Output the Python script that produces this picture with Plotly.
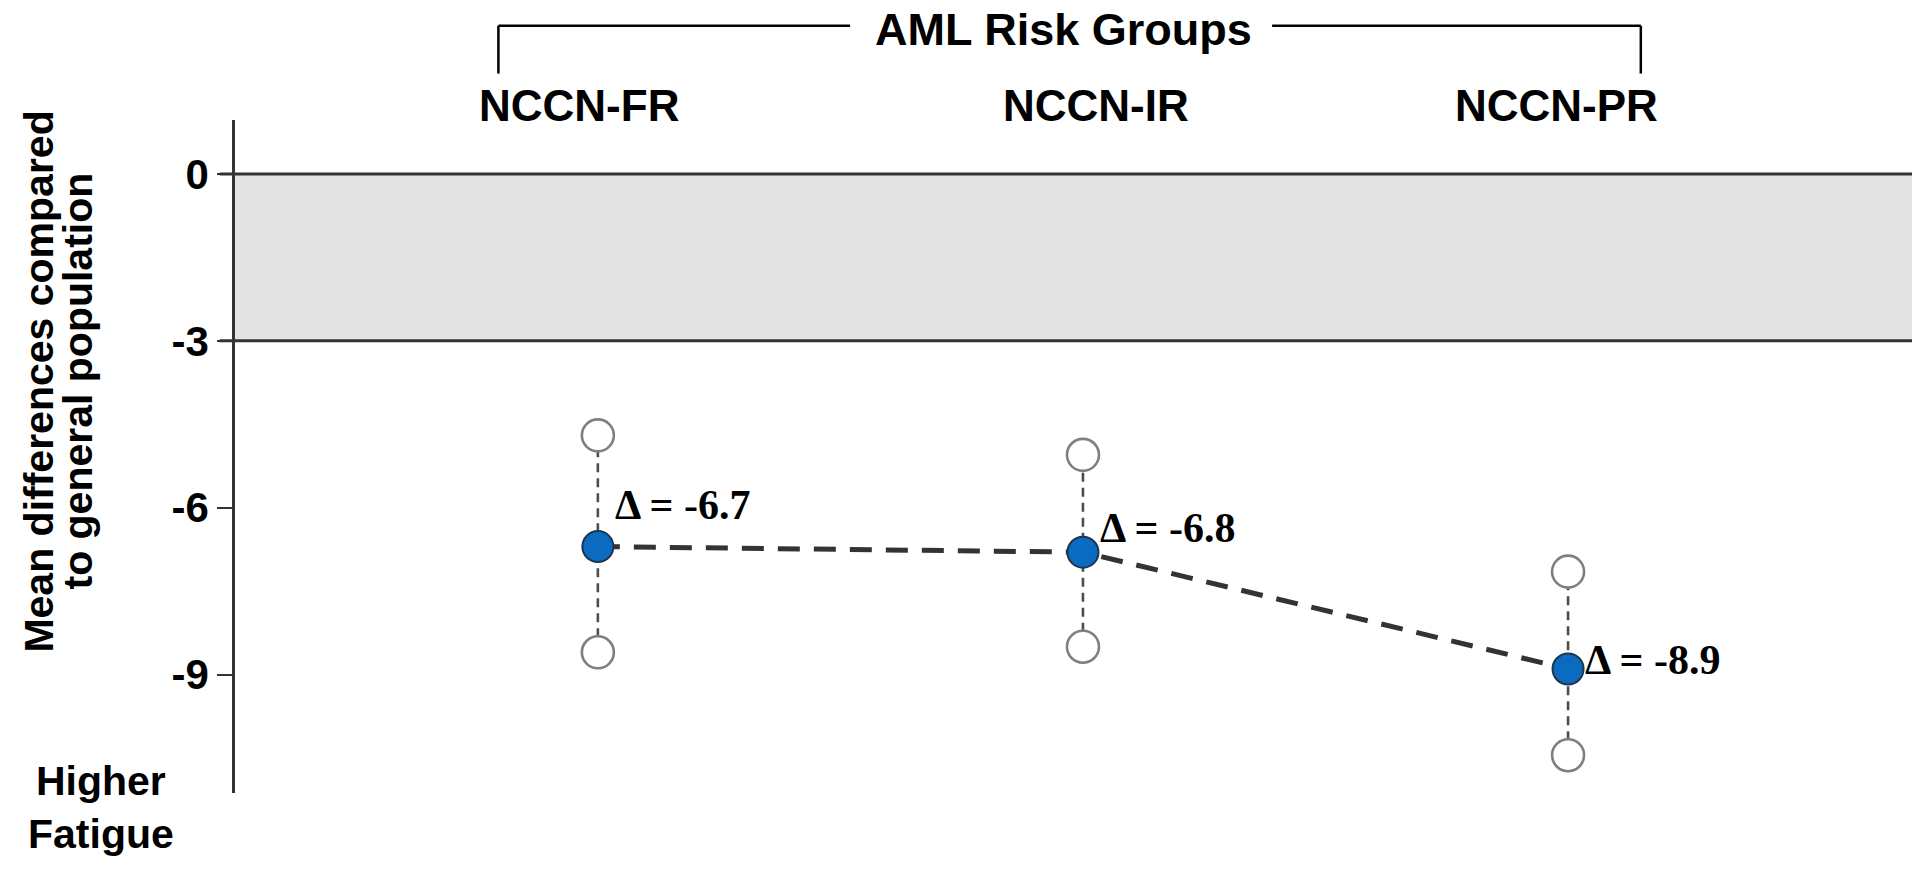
import plotly.graph_objects as go

# ---- data ----
groups = ["NCCN-FR", "NCCN-IR", "NCCN-PR"]
mean_diff = [-6.7, -6.8, -8.9]
ci_upper = [-4.7, -5.05, -7.15]
ci_lower = [-8.6, -8.5, -10.45]
delta_labels = ["Δ = -6.7", "Δ = -6.8", "Δ = -8.9"]
tick_vals = [0, -3, -6, -9]
tick_text = ["0", "-3", "-6", "-9"]
band_range = [-3, 0]
y_title_lines = ["Mean differences compared", "to general population"]

SANS = "Liberation Sans, Arial, sans-serif"
SERIF = "Liberation Serif, Times New Roman, serif"

fig = go.Figure()

# CI vertical dashed lines
for g, lo, hi in zip(groups, ci_lower, ci_upper):
    fig.add_trace(go.Scatter(
        x=[g, g], y=[lo, hi], mode="lines",
        line=dict(color="#4d4d4d", width=2.6, dash="9px,6px"),
        hoverinfo="skip", showlegend=False))

# mean connecting dashed line
fig.add_trace(go.Scatter(
    x=groups, y=mean_diff, mode="lines",
    line=dict(color="#333333", width=5, dash="22px,14px"),
    showlegend=False))

# hollow CI end markers
fig.add_trace(go.Scatter(
    x=groups + groups, y=ci_upper + ci_lower, mode="markers",
    marker=dict(size=32, color="white", line=dict(color="#7f7f7f", width=2.6)),
    showlegend=False))

# mean markers
fig.add_trace(go.Scatter(
    x=groups, y=mean_diff, mode="markers",
    marker=dict(size=31, color="#0b6bc0", line=dict(color="#1c3550", width=2)),
    showlegend=False))

# grey band and horizontal reference lines
fig.add_shape(type="rect", xref="paper", yref="y", x0=0, x1=0.998,
              y0=band_range[0], y1=band_range[1],
              fillcolor="#e4e4e4", line=dict(width=0), layer="below")
for yv in band_range:
    fig.add_shape(type="line", xref="paper", yref="y", x0=-0.009, x1=0.998,
                  y0=yv, y1=yv, line=dict(color="#333333", width=3))

# bracket above the groups
br_top = 1.140
br_bot = 1.069
fig.add_shape(type="line", xref="x", yref="paper", x0=-0.205, x1=-0.205,
              y0=br_bot, y1=br_top, line=dict(color="black", width=2.5))
fig.add_shape(type="line", xref="x", yref="paper", x0=2.15, x1=2.15,
              y0=br_bot, y1=br_top, line=dict(color="black", width=2.5))
fig.add_shape(type="line", xref="x", yref="paper", x0=-0.205, x1=0.52,
              y0=br_top, y1=br_top, line=dict(color="black", width=2.5))
fig.add_shape(type="line", xref="x", yref="paper", x0=1.39, x1=2.15,
              y0=br_top, y1=br_top, line=dict(color="black", width=2.5))
fig.add_annotation(x=0.96, y=br_top, xref="x", yref="paper",
                   text="<b>AML Risk Groups</b>", showarrow=False,
                   font=dict(family=SANS, size=45, color="black"),
                   xanchor="center", yanchor="middle", yshift=-4, borderpad=0)

# group labels on top
for g, dx in zip(groups, [-19, 13, -12]):
    fig.add_annotation(x=g, y=1.021, xref="x", yref="paper",
                       text=f"<b>{g}</b>", showarrow=False,
                       font=dict(family=SANS, size=44, color="black"),
                       xanchor="center", yanchor="middle", xshift=dx)

# delta labels
for g, m, lab, ys in zip(groups, mean_diff, delta_labels, [42, 24, 9]):
    fig.add_annotation(x=g, y=m, xref="x", yref="y", text=f"<b>{lab}</b>",
                       showarrow=False, xanchor="left", yanchor="middle",
                       xshift=15, yshift=ys,
                       font=dict(family=SERIF, size=42, color="black"))

# y-axis title (two rotated lines)
for line, px in zip(y_title_lines, [-0.1155, -0.0925]):
    fig.add_annotation(x=px, y=0.612, xref="paper", yref="paper",
                       text=f"<b>{line}</b>", textangle=-90, showarrow=False,
                       xanchor="center", yanchor="middle",
                       font=dict(family=SANS, size=41, color="black"))

# Higher Fatigue
fig.add_annotation(x=-0.079, y=-0.021, xref="paper", yref="paper",
                   text="<b>Higher<br>Fatigue</b>", showarrow=False,
                   xanchor="center", yanchor="middle",
                   font=dict(family=SANS, size=41, color="black"))

fig.update_layout(
    width=1920, height=869,
    margin=dict(l=227, r=0, t=112, b=84),
    plot_bgcolor="white", paper_bgcolor="white",
    xaxis=dict(type="category", categoryorder="array", categoryarray=groups,
               range=[-0.748, 2.742], showticklabels=False, showgrid=False,
               zeroline=False, showline=False, ticks=""),
    yaxis=dict(range=[-11.13, 0.97], tickvals=tick_vals, ticktext=tick_text,
               showgrid=False, zeroline=False, showline=True,
               linecolor="#333333", linewidth=2.5, ticks="outside",
               ticklen=15, tickwidth=2, tickcolor="#333333",
               tickfont=dict(family=SANS, size=42, color="black", weight="bold")),
    showlegend=False,
)

fig.write_html("out.html")
